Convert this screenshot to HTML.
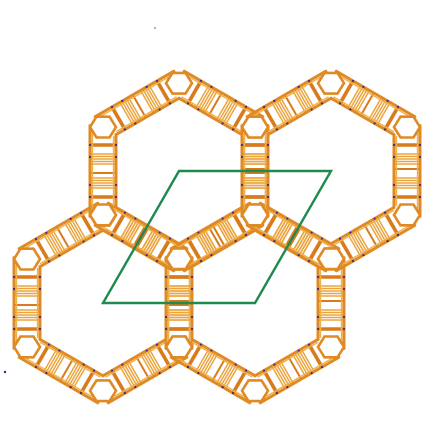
<!DOCTYPE html>
<html><head><meta charset="utf-8"><style>
html,body{margin:0;padding:0;background:#fff;width:432px;height:432px;overflow:hidden}
svg{display:block}
</style></head><body>
<svg id="s" width="432" height="432" viewBox="0 0 432 432" xmlns="http://www.w3.org/2000/svg">
<rect width="432" height="432" fill="#fff"/>
<g id="fw"></g>
<polygon id="cell" fill="none" stroke="#1e8a4e" stroke-width="2.4"/>
<circle cx="155" cy="28" r="0.8" fill="#555"/>
<circle cx="5" cy="372" r="1.2" fill="#3a2a8a"/>
</svg>
<script>
const cellI=[0,1,0,1];
const cellJ=[0,0,1,1];
const cellCorners=[[0,0],[1,0],[1,1],[0,1]];
const rungT=[-17,-14.5,-12,-9.5,-7,7,9.5,12,14.5,17];
const barT=[-26,-2,26];
const O=[103,303],A=[152,0],B=[76,-132];
const AIN=63,AOUT=89;
function pos(i,j){return [O[0]+i*A[0]+j*B[0],O[1]+i*A[1]+j*B[1]];}
const ns="http://www.w3.org/2000/svg";
const fw=document.getElementById('fw');
function mk(t,at){const e=document.createElementNS(ns,t);for(const k in at)e.setAttribute(k,at[k]);return e;}
function line(p,q,c,w,name){const e=mk('line',{x1:p[0],y1:p[1],x2:q[0],y2:q[1],stroke:c,'stroke-width':w,'stroke-linecap':'round'});


fw.appendChild(e);}
function pt(c,ang,ap,t){const nx=Math.cos(ang),ny=Math.sin(ang);return [c[0]+nx*ap-ny*t,c[1]+ny*ap+nx*t];}
const junctions=[];
for(let h=0;h<cellI.length;h++){
  const c=pos(cellI[h],cellJ[h]);
  for(let k=0;k<6;k++){
    const ang=k*Math.PI/3;
    const hi=AIN/Math.sqrt(3),ho=AOUT/Math.sqrt(3);
    rungT.forEach(t=>{line(pt(c,ang,AIN+1,t),pt(c,ang,AOUT-1,t),'#eba540',1.5,'ring-rung');});
    barT.forEach((t,i)=>{line(pt(c,ang,AIN+1,t),pt(c,ang,AOUT-1,t),'#d97b1c',i===1?2:3.6,'ring-bar');});
    line(pt(c,ang,AIN,-hi),pt(c,ang,AIN,hi),'#e08a25',3,'ring-wall');
    line(pt(c,ang,AIN+2.5,-hi+2),pt(c,ang,AIN+2.5,hi-2),'#efb24a',1.4,'ring-wall-inner');
    line(pt(c,ang,AOUT,-ho+6),pt(c,ang,AOUT,ho-6),'#e08a25',3,'ring-wall');
    line(pt(c,ang,AOUT-2.5,-ho+6),pt(c,ang,AOUT-2.5,ho-6),'#efb24a',1.4,'ring-wall-inner');
    [-26,-14,14,26].forEach(t=>{[AIN,AOUT].forEach(ap=>{const p=pt(c,ang,ap,t);const d=mk('circle',{cx:p[0],cy:p[1],r:1.1,fill:'#3a2a8a'});
      
      
      fw.appendChild(d);});});
    const va=ang+Math.PI/6;const R=76/Math.cos(Math.PI/6);
    junctions.push([c[0]+Math.cos(va)*R,c[1]+Math.sin(va)*R]);
  }
}
junctions.forEach(j=>{
  const pts=[];for(let k=0;k<6;k++){const a=k*Math.PI/3;pts.push((j[0]+Math.cos(a)*13).toFixed(1)+','+(j[1]+Math.sin(a)*12).toFixed(1));}
  const e=mk('polygon',{points:pts.join(' '),fill:'#fff',stroke:'#e08a25','stroke-width':2.6});
  
  
  fw.appendChild(e);
});
document.getElementById('cell').setAttribute('points',cellCorners.map(q=>pos(q[0],q[1]).join(',')).join(' '));
</script>
</body></html>
